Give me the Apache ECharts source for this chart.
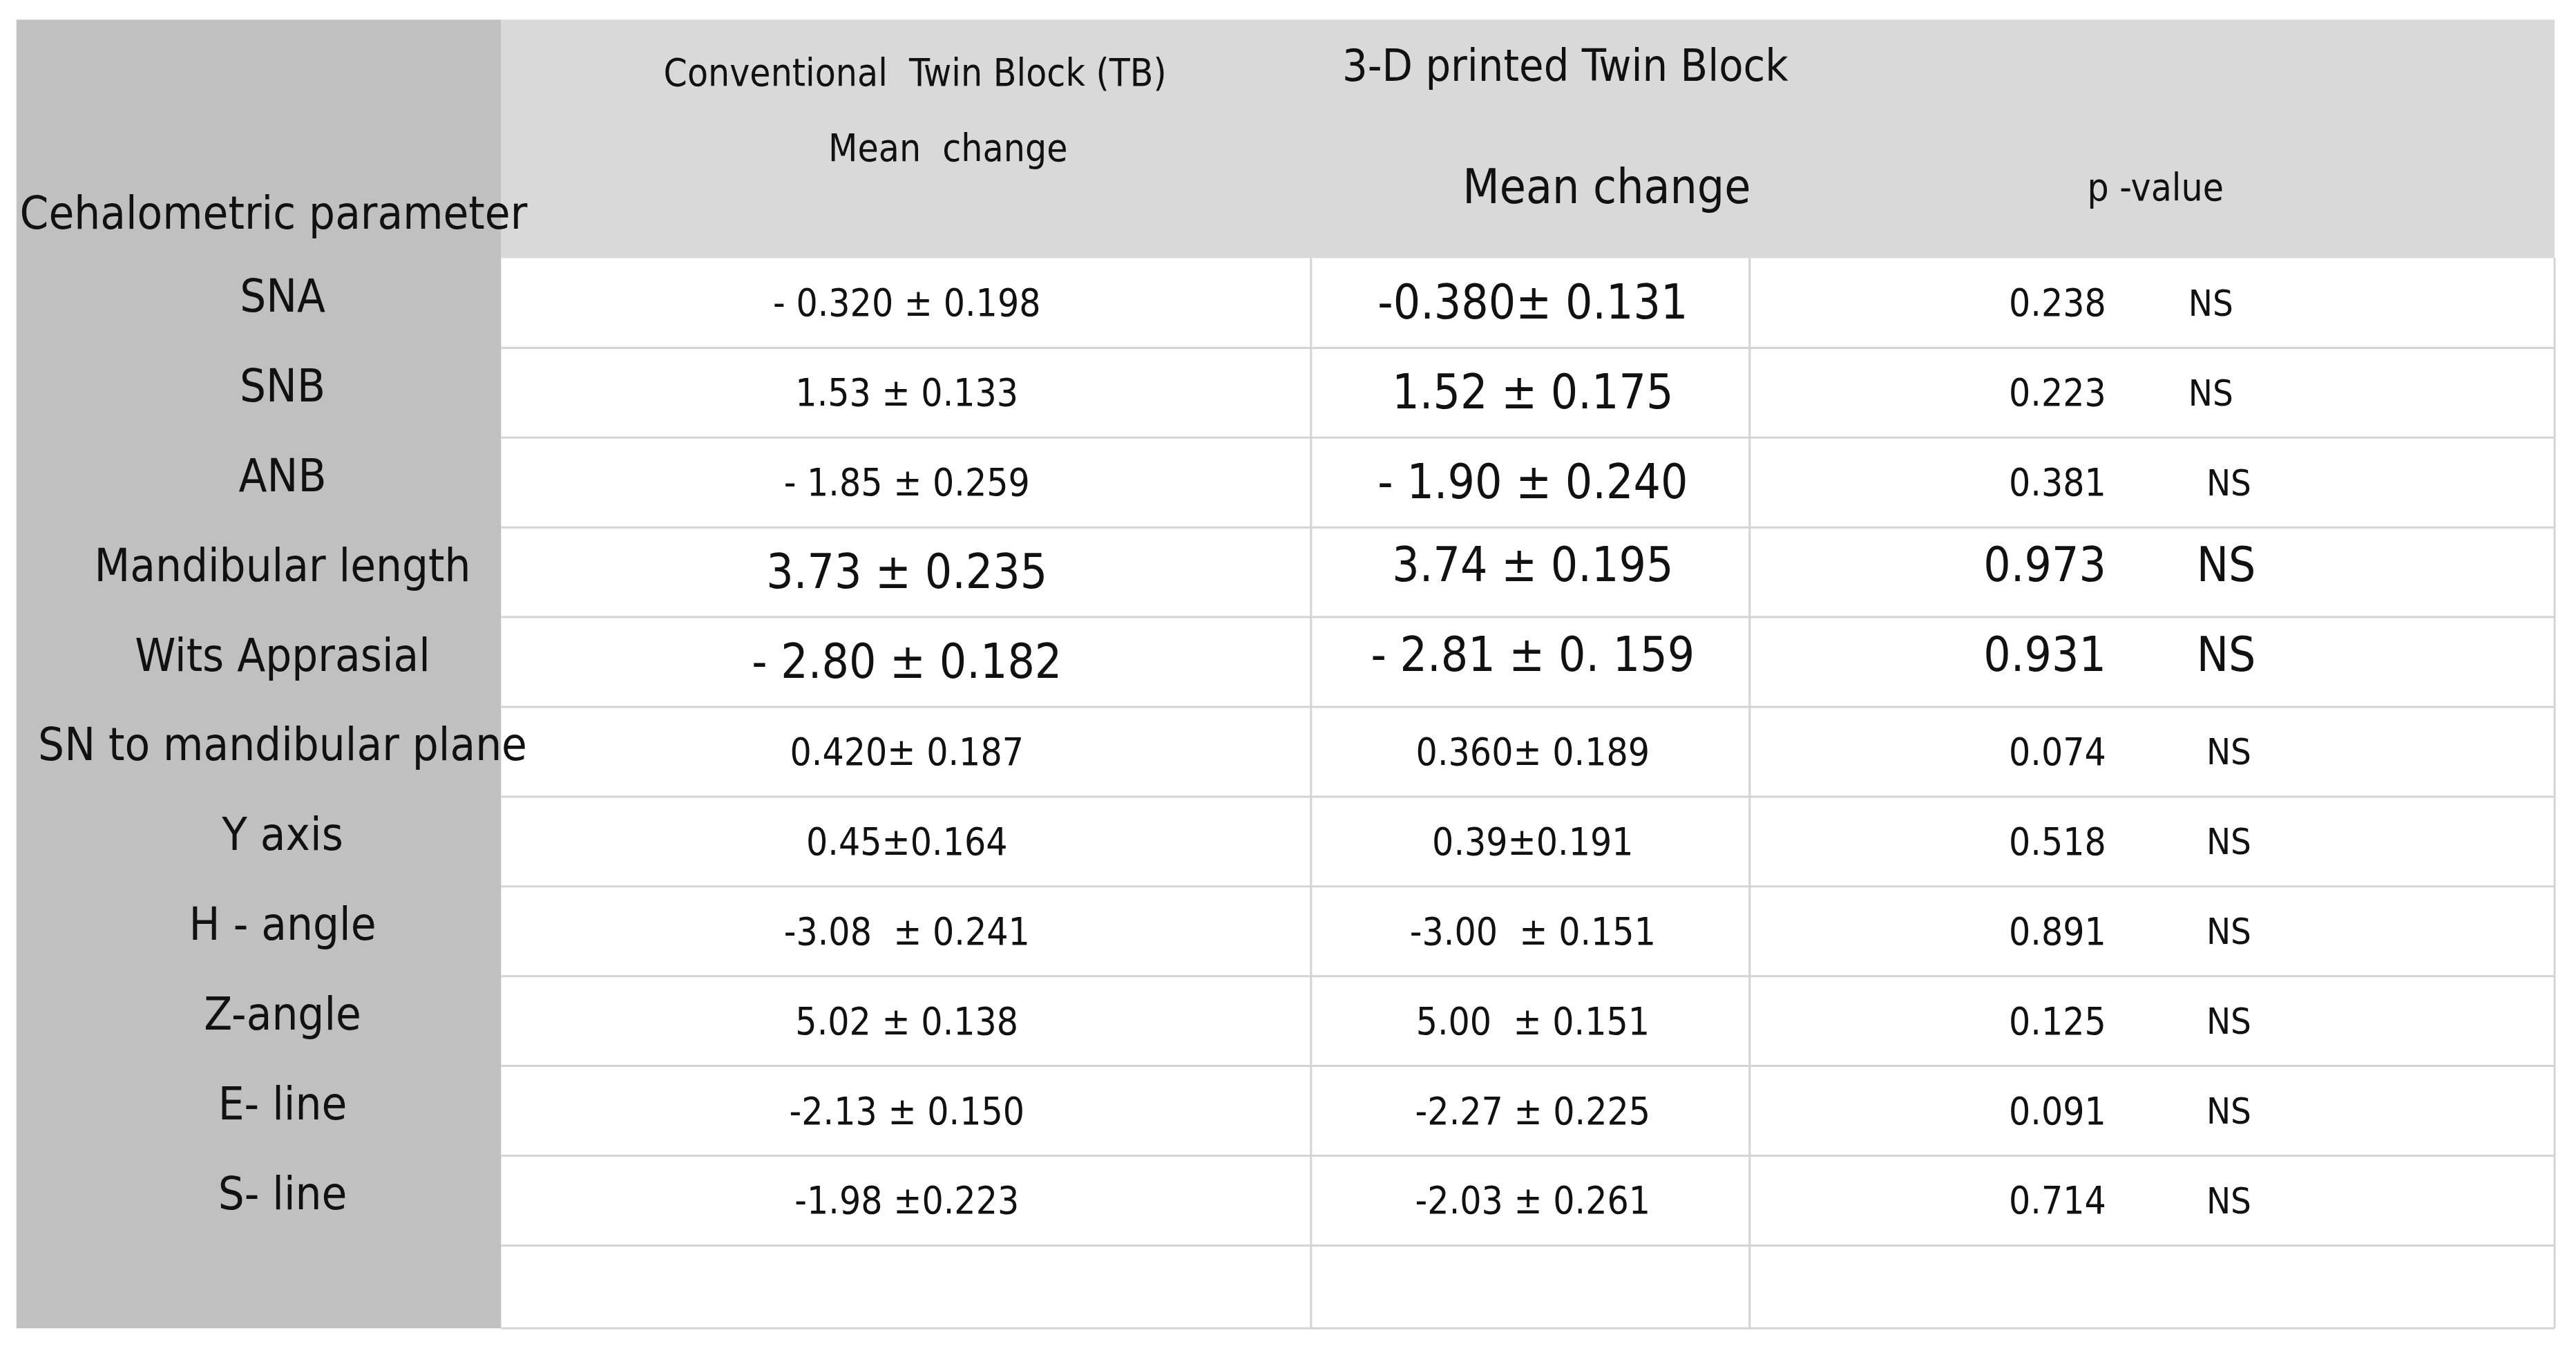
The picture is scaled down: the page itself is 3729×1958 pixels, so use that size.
<!DOCTYPE html>
<html><head><meta charset="utf-8">
<script src="https://cdn.jsdelivr.net/npm/echarts@6/dist/echarts.min.js"></script>
<style>html,body{margin:0;padding:0;background:#fff}#c{width:3729px;height:1958px}</style>
</head><body><div id="c"></div>
<script>
const parameters = ["SNA","SNB","ANB","Mandibular length","Wits Apprasial","SN to mandibular plane","Y axis","H - angle","Z-angle","E- line","S- line"];
const conventionalTB = ["- 0.320 ± 0.198","1.53 ± 0.133","- 1.85 ± 0.259","3.73 ± 0.235","- 2.80 ± 0.182","0.420± 0.187","0.45±0.164","-3.08  ± 0.241","5.02 ± 0.138","-2.13 ± 0.150","-1.98 ±0.223"];
const printedTB = ["-0.380± 0.131","1.52 ± 0.175","- 1.90 ± 0.240","3.74 ± 0.195","- 2.81 ± 0. 159","0.360± 0.189","0.39±0.191","-3.00  ± 0.151","5.00  ± 0.151","-2.27 ± 0.225","-2.03 ± 0.261"];
const pValues = ["0.238","0.223","0.381","0.973","0.931","0.074","0.518","0.891","0.125","0.091","0.714"];
const significance = ["NS","NS","NS","NS","NS","NS","NS","NS","NS","NS","NS"];

const S = 3729/1568;
const colEdges = [10,305,798,1065,1555];
const top0 = 12, headBottom = 157, rowH = 54.6, tableBottom = 808;
const FONT = '"Liberation Sans Narrow","DejaVu Sans Condensed","Open Sans",sans-serif';
const big3D = [0,1,2,3,4], bigAll = [3,4];

const chart = echarts.init(document.getElementById('c'));
function rect(api,x0,y0,x1,y1,fill,stroke){
  const a=api.coord([x0,y0]), b=api.coord([x1,y1]);
  return {type:'rect',shape:{x:a[0],y:a[1],width:b[0]-a[0],height:b[1]-a[1]},style:{fill:fill,stroke:stroke||null,lineWidth:3}};
}
function txt(api,x,y,t,fs,align){
  const p=api.coord([x,y]);
  return {type:'text',x:p[0],y:p[1],style:{text:t,font:(fs*S)+'px '+FONT,fill:'#111',align:align||'center',verticalAlign:'middle'}};
}
function line(api,x0,y0,x1,y1){
  const a=api.coord([x0,y0]), b=api.coord([x1,y1]);
  return {type:'line',shape:{x1:a[0],y1:a[1],x2:b[0],y2:b[1]},style:{stroke:'#d4d4d4',lineWidth:3}};
}
chart.setOption({
  animation:false,
  backgroundColor:'#fff',
  grid:{left:0,right:0,top:0,bottom:0},
  xAxis:{type:'value',min:0,max:1568,show:false},
  yAxis:{type:'value',min:0,max:823,inverse:true,show:false},
  series:[{
    type:'custom',
    data:[0],
    renderItem:function(params,api){
      const ch=[];
      ch.push(rect(api,colEdges[1],top0,colEdges[4],headBottom,'#d9d9d9'));
      ch.push(rect(api,colEdges[0],top0,colEdges[1],tableBottom,'#c0c0c0'));
      for(let i=0;i<=parameters.length+1;i++){
        const y=headBottom+i*rowH; if(i>0) ch.push(line(api,colEdges[1],Math.min(y,tableBottom),colEdges[4],Math.min(y,tableBottom)));
      }
      for(let c=2;c<=4;c++) ch.push(line(api,colEdges[c],headBottom,colEdges[c],tableBottom));
      ch.push(txt(api,557,46,'Conventional  Twin Block (TB)',23));
      ch.push(txt(api,577,92,'Mean  change',23));
      ch.push(txt(api,817,42,'3-D printed Twin Block',27,'left'));
      ch.push(txt(api,978,116,'Mean change',29));
      ch.push(txt(api,1312,116,'p -value',23));
      ch.push(txt(api,12,132,'Cehalometric parameter',28,'left'));
      parameters.forEach((p,i)=>{
        const y=headBottom+rowH*(i+0.5)-2;
        const b=bigAll.includes(i);
        ch.push(txt(api,172,y,p,28));
        ch.push(txt(api,552,y+4,conventionalTB[i],b?29:23));
        ch.push(txt(api,933,y+(b?0:4),printedTB[i],big3D.includes(i)?29:23));
        ch.push(txt(api,1282,y+(b?0:4),pValues[i],b?29:23,'right'));
        ch.push(txt(api,b?1337:(i<2?1332:1343),y+(b?0:4),significance[i],b?29:22,'left'));
      });
      return {type:'group',children:ch};
    }
  }]
});
</script></body></html>
